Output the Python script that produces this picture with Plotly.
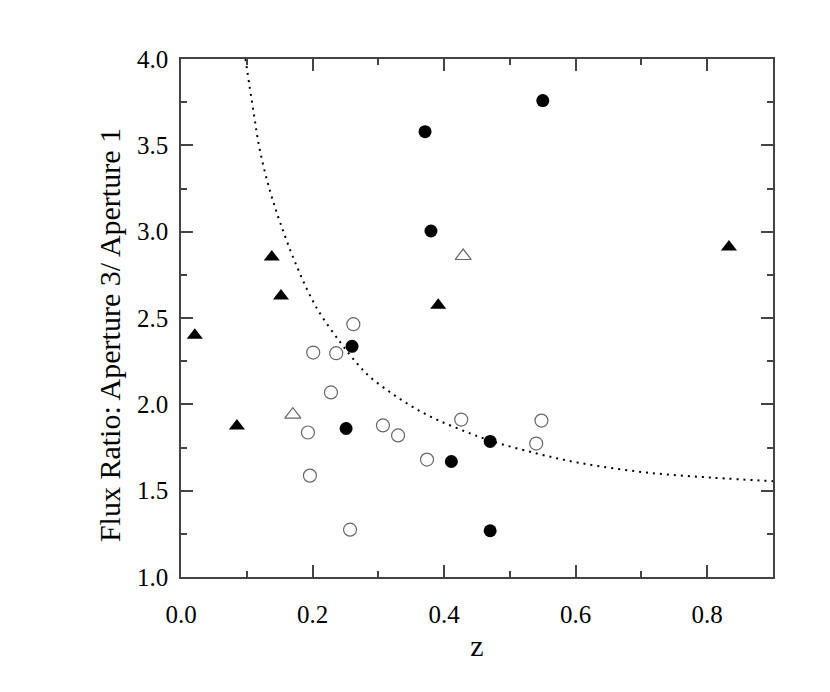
import plotly.graph_objects as go

# filled triangles
tri_fill_x = [0.021, 0.085, 0.138, 0.152, 0.391, 0.833]
tri_fill_y = [2.40, 1.875, 2.853, 2.627, 2.574, 2.911]

# open triangles
tri_open_x = [0.170, 0.429]
tri_open_y = [1.94, 2.859]

# filled circles
circ_fill_x = [0.371, 0.550, 0.380, 0.260, 0.251, 0.411, 0.470, 0.470]
circ_fill_y = [3.579, 3.759, 3.004, 2.336, 1.86, 1.669, 1.785, 1.268]

# open circles
circ_open_x = [0.262, 0.201, 0.236, 0.228, 0.193, 0.196, 0.257, 0.307, 0.330, 0.374, 0.426, 0.540, 0.548]
circ_open_y = [2.464, 2.30, 2.296, 2.069, 1.837, 1.587, 1.274, 1.878, 1.82, 1.68, 1.912, 1.773, 1.906]

# dotted curve
curve_x = [0.098, 0.110, 0.120, 0.135, 0.151, 0.176, 0.206, 0.242, 0.267, 0.287, 0.318, 0.350,
           0.384, 0.424, 0.470, 0.541, 0.607, 0.708, 0.809, 0.900]
curve_y = [4.00, 3.70, 3.47, 3.24, 3.05, 2.80, 2.56, 2.36, 2.24, 2.16, 2.07, 1.99,
           1.92, 1.855, 1.79, 1.715, 1.66, 1.605, 1.575, 1.555]

fig = go.Figure()
fig.add_trace(go.Scatter(x=curve_x, y=curve_y, mode='lines', line_shape='spline',
                         line=dict(color='black', width=2, dash='2px,5px')))
fig.add_trace(go.Scatter(x=tri_fill_x, y=tri_fill_y, mode='markers',
                         marker=dict(symbol='triangle-up', size=14, color='black')))
fig.add_trace(go.Scatter(x=tri_open_x, y=tri_open_y, mode='markers',
                         marker=dict(symbol='triangle-up-open', size=14, color='#666666',
                                     line=dict(width=1.2))))
fig.add_trace(go.Scatter(x=circ_fill_x, y=circ_fill_y, mode='markers',
                         marker=dict(symbol='circle', size=13, color='black')))
fig.add_trace(go.Scatter(x=circ_open_x, y=circ_open_y, mode='markers',
                         marker=dict(symbol='circle-open', size=13, color='#666666',
                                     line=dict(width=1.2))))

serif = 'Liberation Serif, Times New Roman, serif'
tick_font = dict(family=serif, size=25, color='black')
title_font = dict(family=serif, size=30, color='black')

# the page body adds 8px around the figure
fig.update_layout(
    width=822, height=684,
    margin=dict(l=173, r=57, t=51, b=115),
    plot_bgcolor='white', paper_bgcolor='white',
    showlegend=False,
    font=tick_font,
)
fig.update_xaxes(
    range=[0, 0.9], tickvals=[0, 0.2, 0.4, 0.6, 0.8], ticktext=['0.0', '0.2', '0.4', '0.6', '0.8'],
    ticks='inside', ticklen=12, tickwidth=1.5, tickcolor='#444444',
    minor=dict(dtick=0.1, tick0=0, ticks='inside', ticklen=6, tickwidth=1.5, tickcolor='#444444'),
    showline=True, linecolor='#444444', linewidth=1.5, mirror='ticks',
    showgrid=False, zeroline=False, ticklabelstandoff=14,
    title=dict(text='z', standoff=8, font=title_font), tickfont=tick_font,
)
fig.update_yaxes(
    range=[1.0, 4.0], tickvals=[1.0, 1.5, 2.0, 2.5, 3.0, 3.5, 4.0],
    ticktext=['1.0', '1.5', '2.0', '2.5', '3.0', '3.5', '4.0'],
    ticks='inside', ticklen=12, tickwidth=1.5, tickcolor='#444444',
    minor=dict(dtick=0.25, tick0=1.0, ticks='inside', ticklen=6, tickwidth=1.5, tickcolor='#444444'),
    showline=True, linecolor='#444444', linewidth=1.5, mirror='ticks',
    showgrid=False, zeroline=False, ticklabelstandoff=6,
    tickfont=tick_font,
)
# y title sits a bit below the plot centre in the original
fig.add_annotation(text='Flux Ratio: Aperture 3/ Aperture 1', textangle=-90,
                   xref='paper', yref='paper', x=0, y=0.467, xanchor='center', yanchor='middle',
                   xshift=-72, showarrow=False, font=title_font)

fig.write_html("out.html")
